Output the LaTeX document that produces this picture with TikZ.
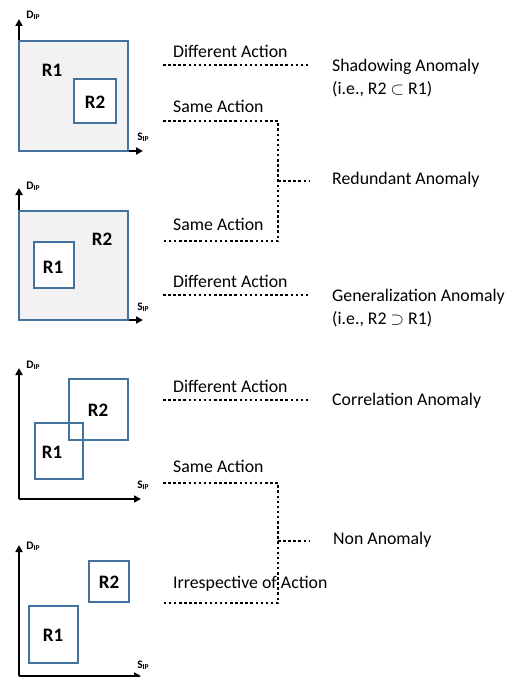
\documentclass[tikz,border=0pt]{standalone}
\usepackage{fontspec}
\setmainfont{Carlito}
\usetikzlibrary{arrows.meta}
\definecolor{boxblue}{HTML}{41719C}
\definecolor{boxfill}{HTML}{F2F2F2}
\newcommand{\axisname}[2]{#1\raisebox{-1.4pt}{\fontsize{7.5}{8}\selectfont #2}}
\begin{document}
\begin{tikzpicture}[x=1pt,y=-1pt,
  axis/.style={line width=2pt,-{Triangle[length=7pt,width=7pt]}},
  region/.style={draw=boxblue,line width=2.7pt},
  rlabel/.style={font=\fontsize{19}{21}\selectfont\bfseries,inner sep=0},
  axlabel/.style={font=\fontsize{11.5}{13}\selectfont\bfseries,inner sep=0},
  txt/.style={font=\fontsize{17.8}{23}\selectfont,anchor=west,inner sep=0},
  link/.style={line width=2.5pt,dash pattern=on 2.5pt off 2.6pt}]
\useasboundingbox (0,0) rectangle (515,677);

% ---------- panel 1: R2 inside R1 ----------
\coordinate (o1) at (19,151);
\draw[axis] (o1) -- (19,19);
\draw[axis] (o1) -- (143,151);
\draw[region,fill=boxfill] (19,41) rectangle (128,151);
\draw[region,fill=white] (74,79) rectangle (116,123);
\node[rlabel] (a1) at (52,70) {R1};
\node[rlabel] (a2) at (95,102) {R2};
\node[axlabel] (d1) at (33,15) {\axisname{D}{IP}};
\node[axlabel] (s1) at (143,137) {\axisname{S}{IP}};

% ---------- panel 2: R1 inside R2 ----------
\coordinate (o2) at (19,320);
\draw[axis] (o2) -- (19,188);
\draw[axis] (o2) -- (143,320);
\draw[region,fill=boxfill] (19,211) rectangle (128,320);
\draw[region,fill=white] (34,242) rectangle (74,288);
\node[rlabel] (b1) at (53,267) {R1};
\node[rlabel] (b2) at (102,239) {R2};
\node[axlabel] (d2) at (33,186) {\axisname{D}{IP}};
\node[axlabel] (s2) at (143,307) {\axisname{S}{IP}};

% ---------- panel 3: overlapping regions ----------
\coordinate (o3) at (19,499);
\draw[axis] (o3) -- (19,368);
\draw[axis] (o3) -- (141,499);
\draw[region] (35,423) rectangle (83,479);
\draw[region] (69,379) rectangle (128,440);
\node[rlabel] (c1) at (52,452) {R1};
\node[rlabel] (c2) at (98,410) {R2};
\node[axlabel] (d3) at (33,365) {\axisname{D}{IP}};
\node[axlabel] (s3) at (143,485) {\axisname{S}{IP}};

% ---------- panel 4: disjoint regions ----------
\coordinate (o4) at (19,676);
\draw[axis] (o4) -- (19,545);
\draw[axis] (o4) -- (141,676);
\draw[region] (29,606) rectangle (78,663);
\draw[region] (89,561) rectangle (129,602);
\node[rlabel] (e1) at (53,635) {R1};
\node[rlabel] (e2) at (109,582) {R2};
\node[axlabel] (d4) at (33,546) {\axisname{D}{IP}};
\node[axlabel] (s4) at (143,665) {\axisname{S}{IP}};

% ---------- action labels ----------
\node[txt] (t1) at (173,51) {Different Action};
\node[txt] (t2) at (173,106) {Same Action};
\node[txt] (t3) at (173,224) {Same Action};
\node[txt] (t4) at (173,281) {Different Action};
\node[txt] (t5) at (173,386) {Different Action};
\node[txt] (t6) at (173,466) {Same Action};
\node[txt] (t7) at (173,584) {Irrespective of Action};

% ---------- outcome labels ----------
\node[txt,align=left] (r1) at (332,78) {Shadowing Anomaly\\(i.e., R2 $\subset$ R1)};
\node[txt] (r2) at (332,180) {Redundant Anomaly};
\node[txt,align=left] (r3) at (332,308) {Generalization Anomaly\\(i.e., R2 $\supset$ R1)};
\node[txt] (r4) at (332,401) {Correlation Anomaly};
\node[txt] (r5) at (333,540) {Non Anomaly};

% ---------- dotted links ----------
\coordinate (l1a) at (163,65);  \coordinate (l1b) at (309,65);
\draw[link] (l1a) -- (l1b);

\coordinate (l2a) at (163,121); \coordinate (l2b) at (163,241);
\coordinate (j2) at (278,181);  \coordinate (l2c) at (310,181);
\draw[link] (l2a) -| (j2) |- (l2b);
\draw[link] (j2) -- (l2c);

\coordinate (l3a) at (163,295); \coordinate (l3b) at (309,295);
\draw[link] (l3a) -- (l3b);

\coordinate (l4a) at (163,400); \coordinate (l4b) at (309,400);
\draw[link] (l4a) -- (l4b);

\coordinate (l5a) at (163,483); \coordinate (l5b) at (163,603);
\coordinate (j5) at (278,541);  \coordinate (l5c) at (310,541);
\draw[link] (l5a) -| (j5) |- (l5b);
\draw[link] (j5) -- (l5c);
\end{tikzpicture}
\end{document}
